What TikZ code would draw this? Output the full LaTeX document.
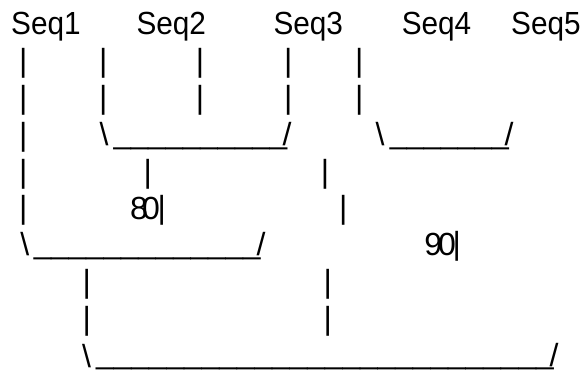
\documentclass[tikz,border=0pt]{standalone}
\usepackage{fontspec}
\setmainfont{Liberation Sans}
\usepackage{graphicx}
\begin{document}
\begin{tikzpicture}[x=1pt,y=-1pt,
  g/.style={inner sep=0pt, outer sep=0pt, font=\fontsize{32}{38}\selectfont},
  lbl/.style={g, anchor=base west},
  bar/.style={g, anchor=center}]
\useasboundingbox[fill=white] (0,0) rectangle (584,370);
% row 1: labels
\node[lbl] (s1) at (11.2,34.5) {\scalebox{0.93}[1]{Seq1}};
\node[lbl] (s2) at (136.5,34.5) {\scalebox{0.93}[1]{Seq2}};
\node[lbl] (s3) at (273.5,34.5) {\scalebox{0.93}[1]{Seq3}};
\node[lbl] (s4) at (401.8,34.5) {\scalebox{0.93}[1]{Seq4}};
\node[lbl] (s5) at (511.2,34.5) {\scalebox{0.93}[1]{Seq5}};
% rows 2 and 3: bars
\foreach \c/\xx in {a/23.3,b/103.3,c/200,d/288.3,e/359.3}{
  \node[bar] (r2\c) at (\xx,63) {|};
  \node[bar] (r3\c) at (\xx,100) {|};
}
% row 4
\node[bar] (r4a) at (23.3,137) {|};
\node[bar] (bs4a) at (104,134) {\textbackslash};
\node[lbl] (u4a) at (113.5,143.1) {\scalebox{0.976}[1]{\_\_\_\_\_\_\_\_\_\_}};
\node[bar] (sl4a) at (287,134) {/};
\node[bar] (bs4b) at (380,134) {\textbackslash};
\node[lbl] (u4b) at (389.8,143.1) {\scalebox{0.956}[1]{\_\_\_\_\_\_\_}};
\node[bar] (sl4b) at (509,134) {/};
% row 5
\node[bar] (r5a) at (23.3,174) {|};
\node[bar] (r5b) at (147.7,174) {|};
\node[bar] (r5c) at (325,174) {|};
% row 6
\node[bar] (r6a) at (23.3,210) {|};
\node[lbl] (n80) at (130.2,219.3) {8\kern-6pt0};
\node[bar] (r6b) at (161.7,210) {|};
\node[bar] (r6c) at (343.3,210) {|};
% row 7
\node[bar] (bs7) at (24.7,244) {\textbackslash};
\node[lbl] (u7) at (33.8,253.8) {\scalebox{0.98}[1]{\_\_\_\_\_\_\_\_\_\_\_\_\_}};
\node[bar] (sl7) at (261,244.3) {/};
\node[lbl] (n90) at (424.3,255.7) {9\kern-4pt0};
\node[bar] (r7b) at (456.7,246.7) {|};
% rows 8 and 9
\node[bar] (r8a) at (86.7,284) {|};
\node[bar] (r8b) at (327.7,284) {|};
\node[bar] (r9a) at (86.7,321.3) {|};
\node[bar] (r9b) at (327.7,321.3) {|};
% row 10
\node[bar] (bs10) at (86.5,355.7) {\textbackslash};
\node[lbl] (u10) at (96.2,363.8) {\scalebox{0.989}[1]{\_\_\_\_\_\_\_\_\_\_\_\_\_\_\_\_\_\_\_\_\_\_\_\_\_\_}};
\node[bar] (sl10) at (554,355) {/};
\end{tikzpicture}
\end{document}
